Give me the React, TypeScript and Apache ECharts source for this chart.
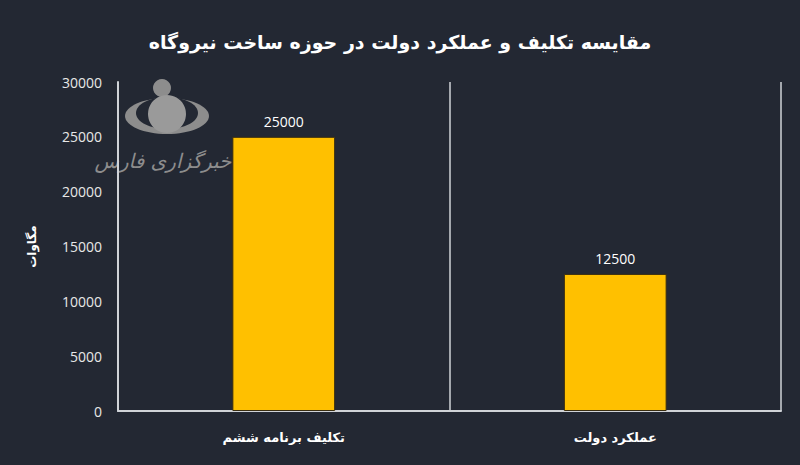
import React, { useEffect, useRef } from "react";
import * as echarts from "echarts";

const titleText = "مقایسه تکلیف و عملکرد دولت در حوزه ساخت نیروگاه";
const categories = ["تکلیف برنامه ششم", "عملکرد دولت"];
const values = [25000, 12500];
const yAxisName = "مگاوات";
const watermarkText = "خبرگزاری فارس";

export default function App() {
  const ref = useRef<HTMLDivElement>(null);
  useEffect(() => {
    if (!ref.current) return;
    const chart = echarts.init(ref.current, undefined, { renderer: "svg" });
    const arabicFont = "'DejaVu Sans', 'Noto Sans', sans-serif";
    chart.setOption({
      animation: false,
      backgroundColor: "#232833",
      title: {
        text: titleText,
        left: "center",
        top: 27,
        textStyle: { color: "#ffffff", fontSize: 19, fontWeight: "bold", fontFamily: arabicFont },
      },
      graphic: [
        { type: "circle", shape: { cx: 162, cy: 88, r: 9 }, style: { fill: "#8d8d8d" }, z: 0 },
        { type: "ellipse", shape: { cx: 167, cy: 116, rx: 42, ry: 18 }, style: { fill: "#8d8d8d" }, z: 0 },
        { type: "ellipse", shape: { cx: 167, cy: 113, rx: 31, ry: 16 }, style: { fill: "#232833" }, z: 0 },
        { type: "circle", shape: { cx: 167, cy: 114, r: 19 }, style: { fill: "#9a9a9a" }, z: 0 },
        {
          type: "text",
          x: 163,
          y: 161,
          z: 0,
          style: {
            text: watermarkText,
            fill: "#8d8d8d",
            font: "italic 20px 'DejaVu Sans', sans-serif",
            align: "center",
            verticalAlign: "middle",
          },
        },
      ],
      grid: { left: 118, right: 19, top: 82, bottom: 54, containLabel: false },
      xAxis: {
        type: "category",
        data: categories,
        axisLine: { show: true, lineStyle: { color: "#d0d3d8", width: 2 } },
        axisTick: { show: false },
        splitLine: { show: true, lineStyle: { color: "#d0d3d8", width: 1.5 } },
        axisLabel: {
          color: "#ffffff",
          fontSize: 13,
          fontWeight: "bold",
          fontFamily: arabicFont,
          margin: 20,
        },
      },
      yAxis: {
        type: "value",
        min: 0,
        max: 30000,
        interval: 5000,
        name: yAxisName,
        nameLocation: "middle",
        nameGap: 80,
        nameTextStyle: { color: "#ffffff", fontSize: 12, fontWeight: "bold", fontFamily: arabicFont },
        axisLine: { show: true, lineStyle: { color: "#d0d3d8", width: 2 } },
        axisTick: { show: false },
        splitLine: { show: false },
        axisLabel: {
          color: "#e8e8e8",
          fontSize: 14,
          fontFamily: "'Open Sans', sans-serif",
          margin: 16,
          formatter: (v: number) => String(v),
        },
      },
      series: [
        {
          type: "bar",
          data: values,
          barWidth: "31%",
          itemStyle: { color: "#FFC000", borderColor: "#3a2e10", borderWidth: 1 },
          label: {
            show: true,
            position: "top",
            distance: 8,
            color: "#ffffff",
            fontSize: 14,
            fontFamily: "'Open Sans', sans-serif",
          },
          z: 3,
        },
      ],
    });
    return () => chart.dispose();
  }, []);
  return <div ref={ref} style={{ width: 800, height: 465, position: "absolute", left: 0, top: 0 }} />;
}
